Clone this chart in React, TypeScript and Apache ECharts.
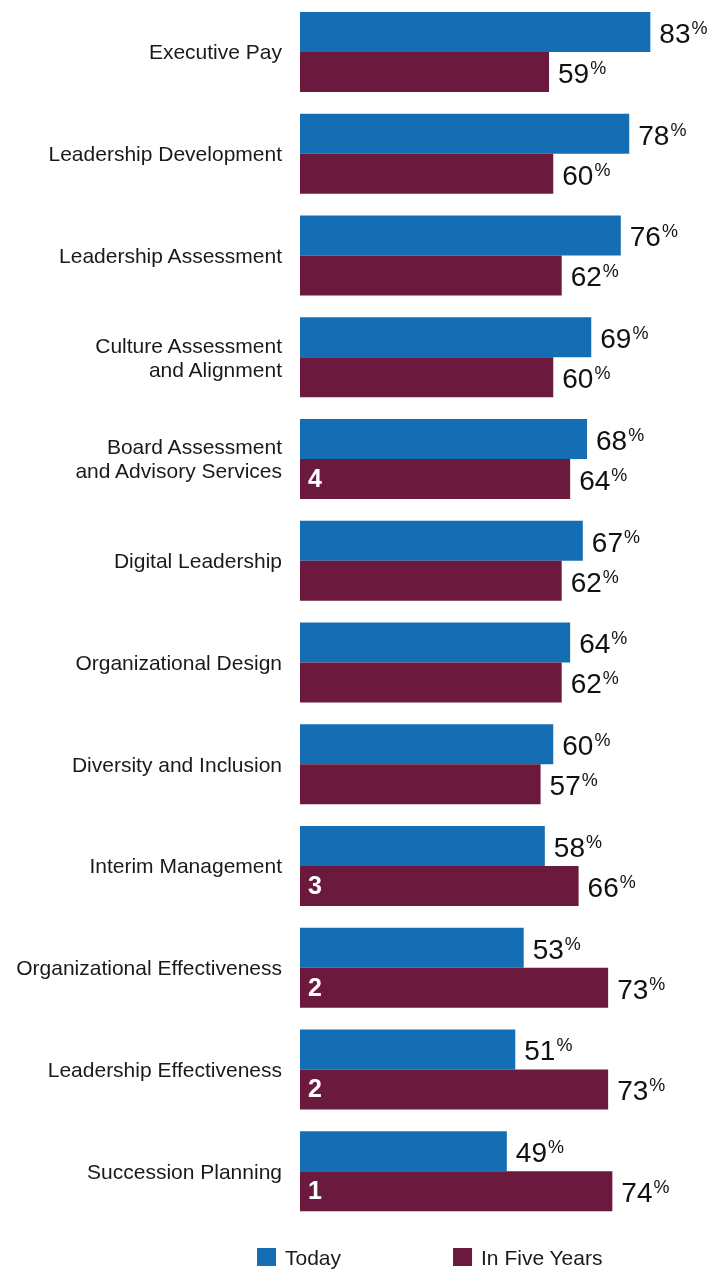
import React, { useEffect, useRef } from "react";
import * as echarts from "echarts";

const categories = [
  "Executive Pay",
  "Leadership Development",
  "Leadership Assessment",
  "Culture Assessment\nand Alignment",
  "Board Assessment\nand Advisory Services",
  "Digital Leadership",
  "Organizational Design",
  "Diversity and Inclusion",
  "Interim Management",
  "Organizational Effectiveness",
  "Leadership Effectiveness",
  "Succession Planning",
];
const today = [83, 78, 76, 69, 68, 67, 64, 60, 58, 53, 51, 49];
const inFiveYears = [59, 60, 62, 60, 64, 62, 62, 57, 66, 73, 73, 74];
const ranks: (number | null)[] = [null, null, null, null, 4, null, null, null, 3, 2, 2, 1];

const BLUE = "#156EB4";
const MAROON = "#6B1A3E";
const FONT = "Arial, 'Liberation Sans', sans-serif";

export default function App() {
  const ref = useRef<HTMLDivElement>(null);
  useEffect(() => {
    if (!ref.current) return;
    const chart = echarts.init(ref.current, null, { renderer: "svg" });
    const valueLabel = {
      show: true,
      position: "right",
      distance: 9,
      formatter: (p: any) => `{v|${p.value}}{p|%}`,
      rich: {
        v: { fontSize: 28, lineHeight: 30, color: "#111", fontFamily: FONT, padding: [3, 0, 0, 0] },
        p: { fontSize: 18, lineHeight: 18, color: "#111", fontFamily: FONT, verticalAlign: "top", padding: [2, 0, 0, 1] },
      },
    };
    chart.setOption({
      animation: false,
      textStyle: { fontFamily: FONT },
      grid: { left: 300, right: 9, top: 1, bottom: 49, containLabel: false },
      xAxis: { type: "value", min: 0, max: 95, show: false },
      yAxis: {
        type: "category",
        data: categories,
        inverse: true,
        axisLine: { show: false },
        axisTick: { show: false },
        axisLabel: {
          fontSize: 21,
          lineHeight: 24,
          margin: 18,
          color: "#1a1a1a",
          fontFamily: FONT,
          align: "right",
          padding: [0, 0, 5, 0],
        },
      },
      legend: {
        data: ["Today", "In Five Years"],
        left: 257,
        top: 1245,
        icon: "rect",
        itemWidth: 19,
        itemHeight: 18,
        itemGap: 112,
        padding: 0,
        textStyle: { fontSize: 21, lineHeight: 24, color: "#1a1a1a", fontFamily: FONT, padding: [0, 0, 0, 4] },
      },
      series: [
        {
          name: "Today",
          type: "bar",
          data: today,
          barWidth: 40,
          barGap: "0%",
          itemStyle: { color: BLUE },
          label: valueLabel,
        },
        {
          name: "In Five Years",
          type: "bar",
          data: inFiveYears,
          barWidth: 40,
          barGap: "0%",
          itemStyle: { color: MAROON },
          label: valueLabel,
        },
        {
          name: "rank",
          type: "scatter",
          symbolSize: 0,
          silent: true,
          data: ranks
            .map((r, i) => (r == null ? null : { value: [0, i], rank: r }))
            .filter((d) => d !== null),
          label: {
            show: true,
            position: "right",
            distance: 8,
            offset: [0, 19],
            formatter: (p: any) => String(p.data.rank),
            fontSize: 25,
            fontWeight: "bold",
            color: "#ffffff",
            opacity: 1,
            fontFamily: FONT,
          },
          z: 10,
        },
      ],
    });
    return () => chart.dispose();
  }, []);
  return <div ref={ref} style={{ position: "fixed", left: 0, top: 0, width: 710, height: 1271 }} />;
}
